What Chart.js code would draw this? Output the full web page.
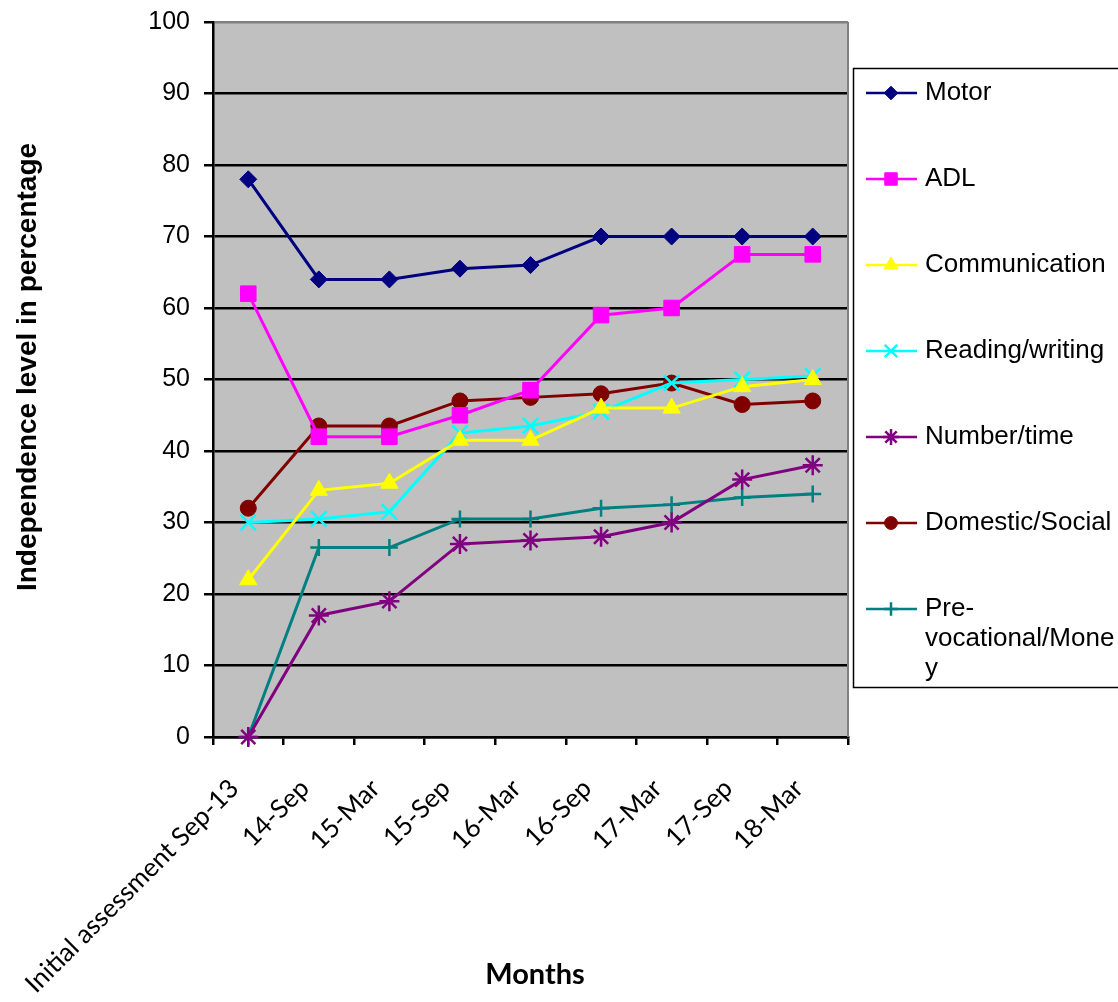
<!DOCTYPE html>
<html>
<head>
<meta charset="utf-8">
<script src="https://cdn.jsdelivr.net/npm/chart.js@4/dist/chart.umd.min.js"></script>
<style>
  body { margin: 0; background: #fff; }
  #wrap { width: 1118px; height: 1002px; }
</style>
</head>
<body>
<div id="wrap"><canvas id="myChart" width="1118" height="1002"></canvas></div>
<script>
var months = ["Initial assessment Sep-13", "14-Sep", "15-Mar", "15-Sep", "16-Mar", "16-Sep", "17-Mar", "17-Sep", "18-Mar"];

var motor = [78, 64, 64, 65.5, 66, 70, 70, 70, 70];
var adl = [62, 42, 42, 45, 48.5, 59, 60, 67.5, 67.5];
var communication = [22, 34.5, 35.5, 41.5, 41.5, 46, 46, 49, 50];
var readingWriting = [30, 30.5, 31.5, 42.5, 43.5, 45.5, 49.5, 50, 50.5];
var numberTime = [0, 17, 19, 27, 27.5, 28, 30, 36, 38];
var domesticSocial = [32, 43.5, 43.5, 47, 47.5, 48, 49.5, 46.5, 47];
var preVocational = [0, 26.5, 26.5, 30.5, 30.5, 32, 32.5, 33.5, 34];

function series(label, data, color, style, radius, bw) {
  return {
    label: label,
    data: data,
    borderColor: color,
    backgroundColor: color,
    pointBackgroundColor: color,
    pointBorderColor: color,
    pointStyle: style,
    pointRadius: radius,
    pointBorderWidth: bw,
    borderWidth: 3,
    tension: 0,
    clip: false
  };
}

// gray plot area, right edge, legend box and axis titles
var extras = {
  id: 'extras',
  beforeDraw: function (chart) {
    var a = chart.chartArea, c = chart.ctx;
    c.save();
    c.fillStyle = '#c0c0c0';
    c.fillRect(a.left, a.top, a.right - a.left, a.bottom - a.top);
    c.restore();
  },
  afterDatasetsDraw: function (chart) {
    var a = chart.chartArea, c = chart.ctx;
    c.save();
    c.strokeStyle = '#808080';
    c.lineWidth = 2;
    c.beginPath();
    c.moveTo(a.right, a.top);
    c.lineTo(a.right, a.bottom);
    c.stroke();
    c.restore();
  },
  afterDraw: function (chart) {
    var c = chart.ctx;
    c.save();
    // legend box
    c.strokeStyle = '#000';
    c.lineWidth = 1.5;
    c.strokeRect(853.5, 68.5, 270, 619);
    c.font = '26px "Liberation Sans", Arial, sans-serif';
    c.textBaseline = 'middle';
    c.textAlign = 'left';
    chart.data.datasets.forEach(function (ds, i) {
      var y = 93 + i * 86;
      c.strokeStyle = ds.borderColor;
      c.lineWidth = 2.5;
      c.beginPath();
      c.moveTo(866, y);
      c.lineTo(917, y);
      c.stroke();
      c.fillStyle = ds.pointBackgroundColor;
      c.strokeStyle = ds.pointBorderColor;
      c.lineWidth = ds.pointBorderWidth;
      Chart.helpers.drawPoint(c, {
        pointStyle: ds.pointStyle,
        radius: ds.pointRadius * 0.8,
        borderWidth: ds.pointBorderWidth,
        rotation: 0
      }, 891, y);
      c.fillStyle = '#000';
      var lines = wrapText(c, ds.label, 196);
      lines.forEach(function (ln, j) {
        c.fillText(ln, 925, y + j * 30);
      });
    });
    // axis titles
    c.fillStyle = '#000';
    c.textAlign = 'center';
    c.font = 'bold 28px "Liberation Sans", Arial, sans-serif';
    c.translate(28, 367);
    c.rotate(-Math.PI / 2);
    c.fillText('Independence level in percentage', 0, 0);
    c.restore();
    c.save();
    c.fillStyle = '#000';
    c.textAlign = 'center';
    c.textBaseline = 'middle';
    c.font = 'bold 29px Lato, sans-serif';
    c.fillText('Months', 535, 975);
    c.restore();
  }
};

function wrapText(c, text, maxW) {
  var parts = text.match(/[^\s-]+-?|\s+/g) || [text];
  var lines = [], cur = '';
  parts.forEach(function (p) {
    if (c.measureText(cur + p).width <= maxW) { cur += p; return; }
    if (cur) { lines.push(cur.trim()); cur = ''; }
    for (var k = 0; k < p.length; k++) {
      if (c.measureText(cur + p[k]).width > maxW) { lines.push(cur); cur = ''; }
      cur += p[k];
    }
  });
  if (cur) lines.push(cur.trim());
  return lines;
}

var ctx = document.getElementById("myChart");
var myChart = new Chart(ctx, {
  type: 'line',
  data: {
    labels: months,
    datasets: [
      series("Motor", motor, "#000080", 'rectRot', 8.5, 1),
      series("ADL", adl, "#ff00ff", 'rect', 11, 1),
      series("Communication", communication, "#ffff00", 'triangle', 10, 1),
      series("Reading/writing", readingWriting, "#00ffff", 'crossRot', 11, 2.5),
      series("Number/time", numberTime, "#800080", 'star', 10, 2.5),
      series("Domestic/Social", domesticSocial, "#800000", 'circle', 8, 1),
      series("Pre-vocational/Money", preVocational, "#008080", 'cross', 8.5, 2.5)
    ]
  },
  plugins: [extras],
  options: {
    responsive: false,
    animation: false,
    devicePixelRatio: 1,
    layout: { padding: { top: 22, right: 270, left: 0, bottom: 0 } },
    plugins: {
      legend: { display: false },
      title: { display: false },
      tooltip: { enabled: false }
    },
    scales: {
      x: {
        offset: true,
        afterFit: function (s) { s.height = 265; },
        grid: {
          offset: true,
          drawOnChartArea: false,
          drawTicks: true,
          tickLength: 8,
          color: '#000',
          lineWidth: 2.5
        },
        border: { color: '#000', width: 2.5 },
        ticks: {
          maxRotation: 45,
          minRotation: 45,
          autoSkip: false,
          padding: 28,
          labelOffset: -14,
          color: '#000',
          font: { family: 'Lato, sans-serif', size: 26 }
        }
      },
      y: {
        min: 0,
        max: 100,
        afterFit: function (s) {
          s.width = 213;
          s.paddingTop = 0;
          s.paddingBottom = 0;
        },
        grid: {
          color: function (c) { return c.tick && c.tick.value === 100 ? '#808080' : '#000'; },
          tickColor: '#000',
          lineWidth: 2.5,
          tickLength: 9
        },
        border: { color: '#000', width: 2.5 },
        ticks: {
          stepSize: 10,
          padding: 14,
          color: '#000',
          font: { family: '"Liberation Sans", Arial, sans-serif', size: 25 }
        }
      }
    }
  }
});
</script>
</body>
</html>
